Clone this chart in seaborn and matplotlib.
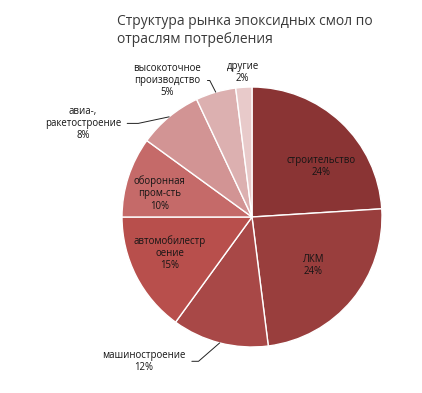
import numpy as np
import matplotlib
matplotlib.use("Agg")
import matplotlib.pyplot as plt
import seaborn as sns

title = "Структура рынка эпоксидных смол по\nотраслям потребления"
categories = ["строительство", "ЛКМ", "машиностроение", "автомобилестроение",
              "оборонная пром-сть", "авиа-, ракетостроение",
              "высокоточное производство", "другие"]
label_texts = ["строительство", "ЛКМ", "машиностроение", "автомобилестр\nоение",
               "оборонная\nпром-сть", "авиа-,\nракетостроение",
               "высокоточное\nпроизводство", "другие"]
values = [24, 24, 12, 15, 10, 8, 5, 2]
colors = ["#8A3434", "#993E3D", "#A84847", "#B84F4C", "#C56A69",
          "#D29494", "#DCB0B0", "#E8CACA"]

sns.set_theme(style="white")
plt.rcParams['font.family'] = ['Open Sans', 'DejaVu Sans']

fig = plt.figure(figsize=(4.22, 3.93), dpi=100)
ax = fig.add_axes([122/422, 46/393, 260/422, 260/393])
wedges, _ = ax.pie(values, colors=colors, startangle=90, counterclock=False,
                   radius=1.0, wedgeprops=dict(edgecolor="white", linewidth=1.0))
ax.set_xlim(-1, 1)
ax.set_ylim(-1, 1)
ax.set_aspect("equal")

txtcol = "#151515"
fs = 6.9
ls = 1.15

def mid_angle(w):
    return np.deg2rad((w.theta1 + w.theta2) / 2)

# inside label positions (layout)
inside = {0: (0.53, 0.39), 1: (0.47, -0.37), 3: (-0.63, -0.28), 4: (-0.71, 0.18)}
for i, pos in inside.items():
    ax.text(pos[0], pos[1], f"{label_texts[i]}\n{values[i]}%",
            ha="center", va="center", fontsize=fs, color=txtcol,
            multialignment="center", linespacing=ls)

# outside labels with leader lines: index -> (text pos, angleB)
outside = {2: ((-0.83, -1.11), 41),
           5: ((-1.30, 0.72), 12),
           6: ((-0.65, 1.05), 117)}
for i, (pos, angB) in outside.items():
    a = mid_angle(wedges[i])
    xy = (np.cos(a), np.sin(a))
    ax.annotate(f"{label_texts[i]}\n{values[i]}%", xy=xy, xytext=pos,
                ha="center", va="center", fontsize=fs, color=txtcol,
                multialignment="center", linespacing=ls,
                annotation_clip=False,
                arrowprops=dict(arrowstyle="-", color="#222222", lw=0.7,
                                relpos=(1, 0.5), shrinkA=2, shrinkB=0,
                                connectionstyle=f"angle,angleA=0,angleB={angB},rad=0"))

# другие label, no leader
ax.text(-0.073, 1.11, f"{label_texts[7]}\n{values[7]}%", ha="center", va="center",
        fontsize=fs, color=txtcol, multialignment="center", linespacing=ls)

fig.text(117/422, 1 - 14/393, title, ha="left", va="top", fontsize=10.0,
         color="#3a3a3a", linespacing=1.3)

fig.savefig("out.png", dpi=100)
